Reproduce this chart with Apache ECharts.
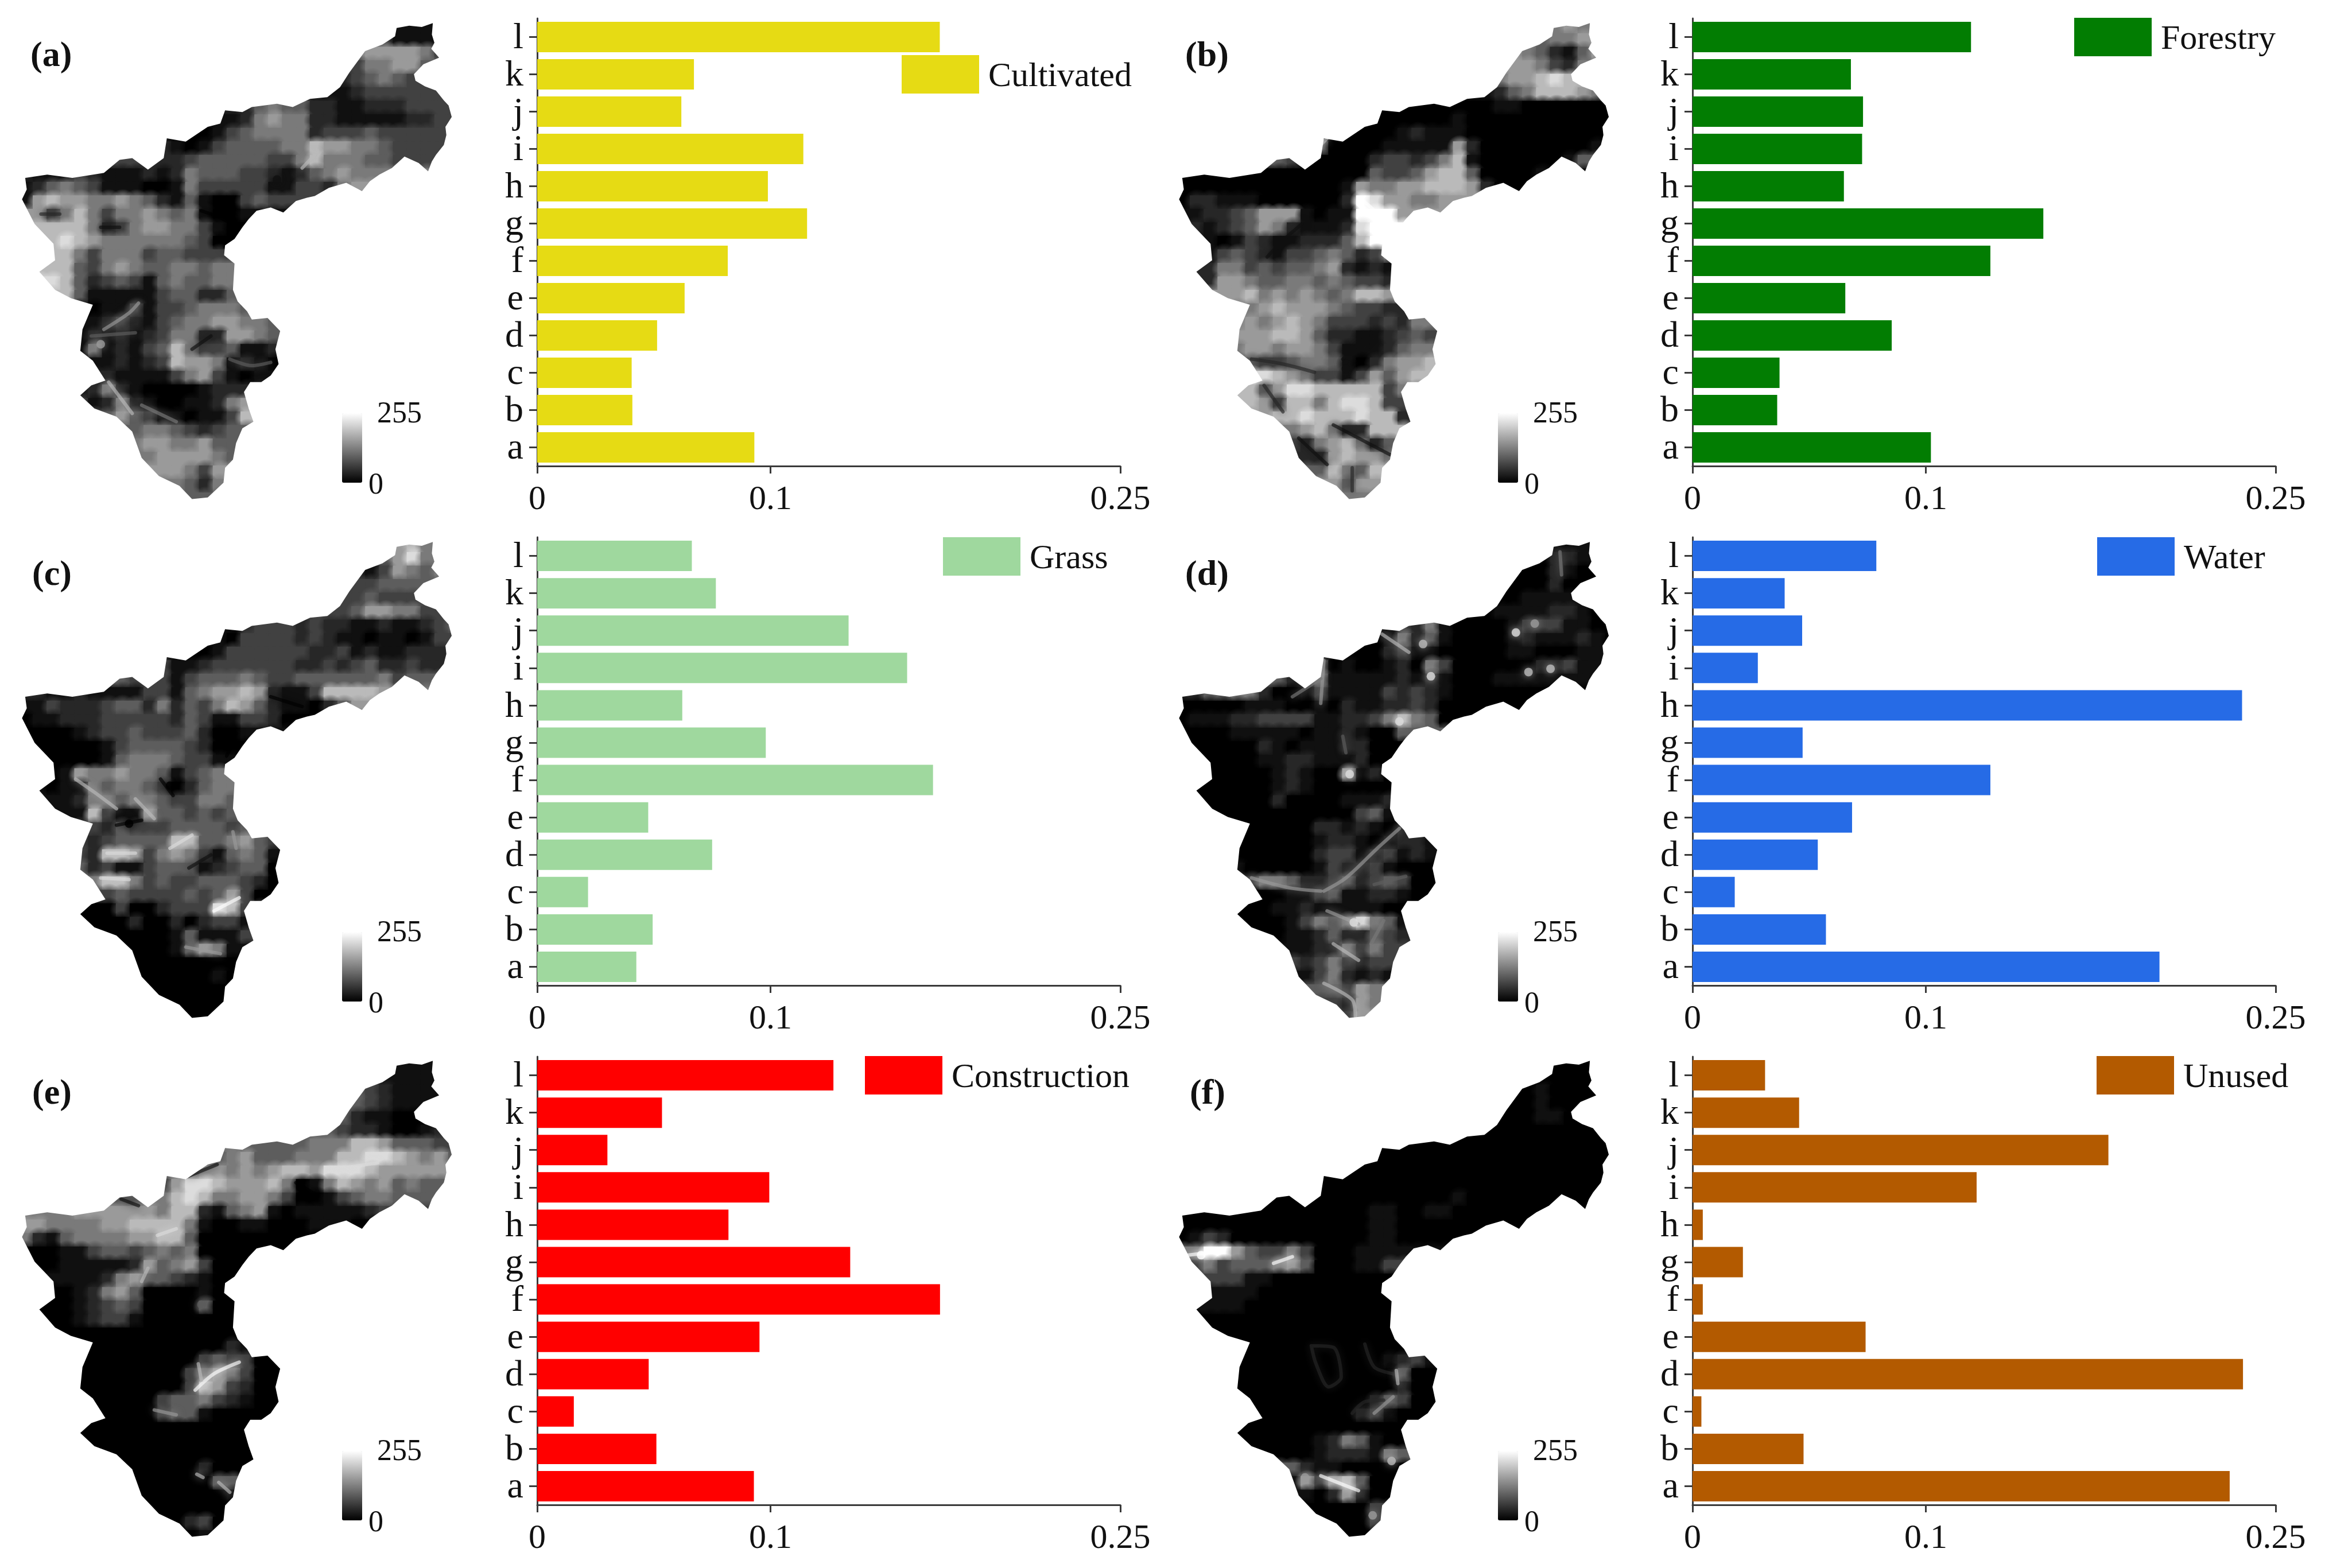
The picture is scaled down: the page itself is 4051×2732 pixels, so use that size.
<!DOCTYPE html>
<html><head><meta charset="utf-8">
<style>html,body{margin:0;padding:0;background:#fff}#c{width:4051px;height:2732px}</style>
<script src="https://cdn.jsdelivr.net/npm/echarts@6/dist/echarts.min.js"></script>
</head><body><div id="c"></div>
<script>
const categories = ['a','b','c','d','e','f','g','h','i','j','k','l'];
const xTickValues = [0, 0.1, 0.25];
const panelLetters = ['(a)','(b)','(c)','(d)','(e)','(f)'];
const landUseNames = ['Cultivated','Forestry','Grass','Water','Construction','Unused'];
const landUseColors = ['#E6DB14','#027D02','#9FD89E','#266BE6','#FF0000','#B35A00'];
const colorbarTicks = ['255','0'];

const cultivated   = [0.0931,0.0408,0.0405,0.0514,0.0632,0.0817,0.1157,0.0989,0.1141,0.0618,0.0672,0.1726];
const forestry     = [0.1022,0.0363,0.0373,0.0854,0.0655,0.1277,0.1504,0.0649,0.0727,0.0731,0.0679,0.1194];
const grass        = [0.0425,0.0495,0.0218,0.0750,0.0476,0.1697,0.0980,0.0622,0.1586,0.1335,0.0766,0.0663];
const water        = [0.2002,0.0572,0.0181,0.0537,0.0684,0.1277,0.0472,0.2356,0.0280,0.0470,0.0395,0.0788];
const construction = [0.0929,0.0511,0.0157,0.0478,0.0953,0.1727,0.1342,0.0820,0.0995,0.0301,0.0535,0.1270];
const unused       = [0.2303,0.0476,0.0038,0.2360,0.0742,0.0044,0.0216,0.0044,0.1218,0.1783,0.0457,0.0311];

// Catchment boundary, in map units (0-1568 across and down each map frame)
const basinOutline = [[1260,85],[1300,78],[1340,82],[1375,70],[1372,105],[1380,130],[1370,148],[1395,175],[1345,195],[1315,225],[1320,245],[1350,262],[1385,275],[1410,305],[1425,320],[1435,355],[1415,385],[1418,410],[1410,440],[1385,470],[1372,490],[1360,520],[1330,495],[1285,475],[1245,510],[1205,530],[1175,550],[1150,580],[1100,555],[1045,570],[1000,595],[975,600],[940,610],[900,645],[860,630],[815,640],[790,665],[770,690],[745,725],[715,745],[712,775],[745,800],[740,880],[755,915],[785,945],[800,970],[850,965],[890,1005],[875,1060],[885,1105],[860,1140],[830,1160],[795,1160],[775,1190],[790,1240],[805,1280],[770,1300],[750,1345],[740,1395],[715,1420],[710,1465],[660,1510],[610,1515],[570,1475],[505,1445],[450,1390],[420,1310],[370,1265],[300,1240],[255,1200],[290,1170],[335,1155],[295,1095],[255,1065],[262,1000],[295,925],[225,905],[175,880],[125,825],[175,790],[170,740],[110,680],[70,605],[85,575],[80,540],[150,530],[230,540],[330,525],[380,485],[420,480],[470,515],[520,480],[530,420],[590,430],[660,385],[700,375],[715,335],[770,340],[800,325],[880,315],[930,325],[985,300],[1040,295],[1080,265],[1110,220],[1160,155],[1215,135],[1255,110]];

// First column of each map row; digits below give the gray level 0-9, cell by cell
const rowStart = [27,26,24,24,23,22,15,14,12,10,7,0,0,0,1,1,2,2,1,2,3,5,4,4,4,5,6,4,4,6,8,8,9,10,11,12];

const mapCultivated = ['111','3111','5666653','355664','234543','112333333','22454422112223333','112565522111112233','0013455552333433333','210134444557665543333','33222344444335755544333','2111321112125444332124565555','1245431110015333331133256','167665565421410034333','6357535565451001','777752356655310','7876555555430','77535553443333','777435654455455','87423431454455','7411111344224','011313345554','112321345566554','121212355226654','151213475334112','11212376651210','211113563101','1252100001222','3125210011256','46431101137','45543234','56655644','5666654','66536','5425','44'];
const mapForestry = ['565','4556','6542146','665325','566787','124577765','00000000110000000','000000100000000000','0000121110000000000','500001111162000000001','43000002332357100000014','0000000000000043346774000011','0000000000001655667776200','022111000000298665566','1223466610119996','212346521112899','1013211222479','13432133454235','225534344562121','26654455454332','6675656545776','567666543322','565676533323255','666776422112343','566566531112455','43345541025667','876533136467','7746887777735','7763775788733','67787778772','56752277','32567524','2267665','47547','6466','55'];
const mapGrass = ['675','4685','2136545','334444','334333','334665533','12333232211211234','103333232110110133','0013333332231211222','311233333322323422322','43331344454334444445344','2211211113314566762113777765','1132223442524357642110246','011222333332431133200','0001233433342001','000001344443200','0000145554331','01655655413455','101154554302455','11255455433554','1173116443434','324333444434','323444477445643','327763565314541','423113444123440','57753433444320','343333434630','0003002333873','0000200202331','00000141113','00014651','00000000','0000010','00000','0000','00'];
const mapWater = ['111','0221','0002100','000200','001111','011112210','13251000013331100','015241000012111210','0002311000001100011','401001205300000022311','42251111121210001111111','2244552001311113232100000000','0000011100102112232000000','011122333311223575400','0001111101121004','000002101112200','0000112211120','00000121006120','000000121000000','00000200001112','0000000000341','000002212102','000000122101221','000000233123121','100000132231000','35542234234300','001134112210','0001121111100','0000135458541','00112422432','11225353','32353233','1352121','44365','3265','36'];
const mapConstruction = ['111','1111','4321111','432111','421100','432210012','54444455577644433','456444555778876564','5665656776888766666','368876667501576564544','44557875566530013455444','5555666666577214561011111233','6655556677775100110001110','521455556677400000000','0011344345450000','001111126456300','1111256443210','00125640000100','000123430000400','00123310000000','0000000000000','000000000021','000000000343300','000000003565300','000000003763200','00000344532100','000034410000','0000000000000','0000000000000','00000000000','00000200','00000044','0000001','00000','0230','01'];
const mapUnused = ['000','0000','0010000','001000','000110','000000000','00000000000000000','000000000000000000','0000000000000000000','000000000000000000000','00000000000001000000000','0000000000000011001100000000','0000000000000011000000000','013200000000001100000','5996433530001111','353444564000113','3331100000000','11110000000000','111100000000000','00000000000000','0000000000000','000000000000','000000000001231','000000000000400','000000000000200','00000000024300','000000023100','0000000000000','0000001254100','00001222154','42110000','16367400','1026200','00003','0003','00'];

// Thin features seen on each map: [gray level 0-9, points]
const streaksCultivated = [[6,[[330,1000],[410,950],[440,920]]],[7,[[1000,470],[960,510]]],[4,[[290,1020],[430,1010]]],[4,[[730,1090],[800,1110],[860,1100]]],[7,[[345,1160],[420,1255]]],[5,[[450,1230],[560,1280]]],[2,[[130,650],[190,650]]],[1,[[320,690],[380,690]]],[1,[[610,1060],[670,1020]]],[0,[[640,640],[740,690],[715,750]]]];
const streaksForestry = [[1,[[350,780],[400,730],[460,680]]],[2,[[340,1170],[400,1250]]],[1,[[560,1290],[640,1330],[740,1380]]],[1,[[450,1330],[540,1410]]],[2,[[620,1420],[620,1490]]],[2,[[300,1090],[400,1105],[500,1130]]],[7,[[520,440],[540,420]]],[9,[[640,600],[690,640],[720,700]]],[1,[[590,1090],[680,1010]]]];
const streaksGrass = [[8,[[340,1015],[430,1015]]],[8,[[320,1090],[410,1095]]],[8,[[540,1000],[610,960]]],[9,[[680,1190],[760,1150]]],[7,[[240,790],[300,830],[370,880]]],[7,[[430,850],[490,910]]],[6,[[590,1300],[700,1320]]],[6,[[740,950],[750,1000]]],[0,[[510,790],[550,840]]],[0,[[370,930],[450,915]]],[1,[[600,1060],[670,1020]]],[0,[[680,640],[750,650],[720,720]]],[0,[[860,540],[960,570]]]];
const streaksWater = [[6,[[770,940],[700,1000],[600,1090],[530,1130]]],[6,[[300,1090],[420,1120],[520,1130]]],[6,[[530,430],[520,560]]],[5,[[430,540],[520,485]]],[7,[[715,350],[800,405]]],[6,[[540,1190],[640,1230]]],[7,[[560,1290],[640,1340]]],[7,[[530,1410],[620,1460],[630,1510]]],[5,[[680,1290],[720,1220]]],[4,[[590,660],[600,710]]],[5,[[1280,100],[1285,170]]],[4,[[690,1110],[790,1085]]]];
const streaksConstruction = [[9,[[620,1070],[680,1020],[760,985]]],[7,[[630,990],[640,1040]]],[6,[[490,1130],[560,1145]]],[8,[[500,600],[560,580]]],[7,[[625,1325],[645,1335]]],[7,[[695,1350],[730,1380]]],[8,[[1060,400],[1200,380]]],[1,[[600,420],[690,385]]],[1,[[385,490],[440,510]]],[0,[[940,440],[1010,480]]],[7,[[470,700],[450,740]]]];
const streaksUnused = [[9,[[100,660],[190,650]]],[9,[[370,685],[430,665]]],[9,[[520,1330],[640,1375]]],[2,[[490,935],[560,940],[585,1030],[545,1060],[505,990],[490,935]]],[2,[[660,930],[690,1000],[750,1020]]],[7,[[760,1010],[765,1050]]],[6,[[690,1140],[750,1090]]],[2,[[620,1140],[660,1105],[720,1100]]]];

// Small bright or dark patches seen on each map: [gray level 0-9, x, y]
const spotsCultivated = [[1,880,545],[6,320,1045]];
const spotsForestry = [[1,600,1120]];
const spotsGrass = [[0,540,810],[0,410,925]];
const spotsWater = [[8,1140,345],[8,870,478],[8,612,775],[7,1250,455],[7,1180,465],[8,770,615],[8,625,1225],[7,845,380],[6,1200,318]];
const spotsConstruction = [[4,640,810]];
const spotsUnused = [[9,140,660],[7,745,1285],[6,470,1335],[6,685,1450]];

const barSeriesData = [cultivated, forestry, grass, water, construction, unused];
const mapData = [mapCultivated, mapForestry, mapGrass, mapWater, mapConstruction, mapUnused];
const streakData = [streaksCultivated, streaksForestry, streaksGrass, streaksWater, streaksConstruction, streaksUnused];
const spotData = [spotsCultivated, spotsForestry, spotsGrass, spotsWater, spotsConstruction, spotsUnused];

const CELL_W = 44, CELL_H = 41, CELL_X0 = 60, CELL_Y0 = 60, COLS = 32;
function levelToGray(level){ return Math.round(255 * Math.pow(level / 9, 1.25)); }
function cellsOf(rows){
  const out = [];
  rows.forEach((s, r) => {
    const start = rowStart[r];
    for (let c = 0; c < COLS; c++) {
      const i = Math.min(Math.max(c - start, 0), s.length - 1);
      out.push([CELL_X0 + c * CELL_W, CELL_Y0 + r * CELL_H, levelToGray(Number(s[i]))]);
    }
  });
  return out;
}
function grayOf(level){ const g = levelToGray(level); return 'rgb('+g+','+g+','+g+')'; }

const FONT = '"Liberation Serif","Times New Roman",serif';
const INK = '#111';
const AXIS = '#3a3a3a';

const mapOrigin = [[0,0],[2016,0],[0,904],[2016,904],[0,1808],[2016,1808]];
const barLeft   = [936,2949,936,2949,936,2949];
const barTop    = [32,32,936,936,1841,1841];
const barBottom = [812,812,1717,1717,2622,2622];
const legendPos = [[1571,96],[3614,31],[1643,936],[3654,936],[1507,1840],[3653,1840]];
const letterPos = [[53,68],[2065,68],[56,972],[2065,972],[56,1876],[2073,1876]];

const grid=[], xAxis=[], yAxis=[], series=[], legend=[], visualMap=[], title=[];

landUseNames.forEach((name, p) => {
  const [ox, oy] = mapOrigin[p];
  const gm = grid.length;
  grid.push({left: ox, top: oy, width: 860, height: 900, containLabel:false});
  xAxis.push({type:'value', gridIndex:gm, min:0, max:1568, show:false});
  yAxis.push({type:'value', gridIndex:gm, min:0, max:1568, inverse:true, show:false});
  const cellSeriesIndex = series.length;
  series.push({
    type:'custom', name:name+' map', coordinateSystem:'cartesian2d', xAxisIndex:gm, yAxisIndex:gm,
    silent:true, clip:false, animation:false, z:1,
    encode:{x:0, y:1},
    dimensions:['x','y','gray'],
    data: cellsOf(mapData[p]),
    renderItem:(params, api) => {
      const pt = api.coord([api.value(0), api.value(1)]);
      const sz = api.size([CELL_W, CELL_H]);
      const col = echarts.color.parse(api.visual('color'));
      const rgb = col[0]+','+col[1]+','+col[2];
      return {type:'group', children:[
        {type:'rect', shape:{x:pt[0], y:pt[1], width:sz[0]+1, height:sz[1]+1}, style:{fill:'rgb('+rgb+')'}},
        {type:'circle', shape:{cx:pt[0]+sz[0]/2, cy:pt[1]+sz[1]/2, r:sz[0]*0.95}, style:{fill:{
          type:'radial', x:0.5, y:0.5, r:0.5, global:false,
          colorStops:[{offset:0,color:'rgba('+rgb+',1)'},{offset:0.4,color:'rgba('+rgb+',0.9)'},{offset:1,color:'rgba('+rgb+',0)'}]
        }}}
      ]};
    }
  });
  streakData[p].forEach((st, k) => {
    const col = grayOf(st[0]);
    series.push({
      type:'line', name:name+' streak '+k, xAxisIndex:gm, yAxisIndex:gm, data:st[1], showSymbol:false, smooth:0.3,
      silent:true, animation:false, z:2, clip:false,
      lineStyle:{color:col, width:6, cap:'round', join:'round', opacity:0.65, shadowColor:col, shadowBlur:14}
    });
  });
  series.push({
    type:'scatter', name:name+' spots', xAxisIndex:gm, yAxisIndex:gm, silent:true, animation:false, z:2,
    data: spotData[p].map(s => ({value:[s[1], s[2]], itemStyle:{color:grayOf(s[0]), shadowColor:grayOf(s[0]), shadowBlur:14, opacity:0.8}})),
    symbolSize:15
  });
  series.push({
    type:'custom', name:name+' boundary', coordinateSystem:'cartesian2d', xAxisIndex:gm, yAxisIndex:gm,
    silent:true, clip:false, animation:false, z:3,
    encode:{x:0, y:1},
    data:[[0,0]],
    renderItem:(params, api) => {
      const pts = [[0,0]].concat(basinOutline, [basinOutline[0],[0,0],[0,1568],[1568,1568],[1568,0]]).map(q => api.coord(q));
      return {type:'polygon', shape:{points:pts}, style:{fill:'#fff'}};
    }
  });
  visualMap.push({
    type:'continuous', seriesIndex:cellSeriesIndex, dimension:2, min:0, max:255,
    inRange:{color:['#000000','#ffffff']}, calculable:false, realtime:false, hoverLink:false,
    itemWidth:35, itemHeight:121, padding:0, orient:'vertical',
    left: ox + 596 - (p%2 ? 2 : 0), top: oy + 720, text:null, showLabel:false
  });
  title.push({text:colorbarTicks[0], left:ox+657-(p%2?2:0), top:oy+696, padding:0, textStyle:{fontFamily:FONT, fontSize:52, fontWeight:'normal', color:INK}});
  title.push({text:colorbarTicks[1], left:ox+642-(p%2?2:0), top:oy+820, padding:0, textStyle:{fontFamily:FONT, fontSize:52, fontWeight:'normal', color:INK}});
  title.push({text:panelLetters[p], left:letterPos[p][0], top:letterPos[p][1], padding:0, textStyle:{fontFamily:FONT, fontSize:62, fontWeight:'bold', color:INK}});

  const gb = grid.length;
  grid.push({left:barLeft[p], top:barTop[p], width:1016, height:barBottom[p]-barTop[p], containLabel:false});
  xAxis.push({
    type:'value', gridIndex:gb, min:0, max:0.25, splitLine:{show:false},
    axisLine:{show:true, onZero:false, lineStyle:{color:AXIS, width:3}},
    axisTick:{show:true, length:13, lineStyle:{color:AXIS, width:3}, customValues:xTickValues},
    axisLabel:{show:true, color:INK, fontFamily:FONT, fontSize:60, margin:29, customValues:xTickValues, hideOverlap:false, formatter:v=>String(v)}
  });
  yAxis.push({
    type:'category', gridIndex:gb, data:categories,
    axisLine:{show:true, onZero:false, lineStyle:{color:AXIS, width:3}},
    axisTick:{show:true, alignWithLabel:true, length:14, lineStyle:{color:AXIS, width:3}},
    axisLabel:{show:true, interval:0, margin:24, padding:[6,0,0,0], formatter:'{t|{value}}',
      rich:{t:{color:INK, fontFamily:FONT, fontSize:64}}},
    splitLine:{show:false}
  });
  series.push({
    type:'bar', name:name, xAxisIndex:gb, yAxisIndex:gb, data:barSeriesData[p],
    barWidth:53, animation:false, silent:true, z:4,
    itemStyle:{color:landUseColors[p], borderWidth:0}
  });
  legend.push({
    show:true, data:[name], left:legendPos[p][0], top:legendPos[p][1], padding:0, icon:'rect',
    itemWidth:135, itemHeight:67, selectedMode:false,
    itemStyle:{borderWidth:0},
    formatter:'{t|{name}}',
    textStyle:{padding:[10,0,0,11], rich:{t:{fontFamily:FONT, fontSize:60, color:INK}}}
  });
});

const chart = echarts.init(document.getElementById('c'), null, {renderer:'canvas', width:4051, height:2732});
chart.setOption({backgroundColor:'#fff', animation:false, grid, xAxis, yAxis, series, legend, visualMap, title});
</script></body></html>
